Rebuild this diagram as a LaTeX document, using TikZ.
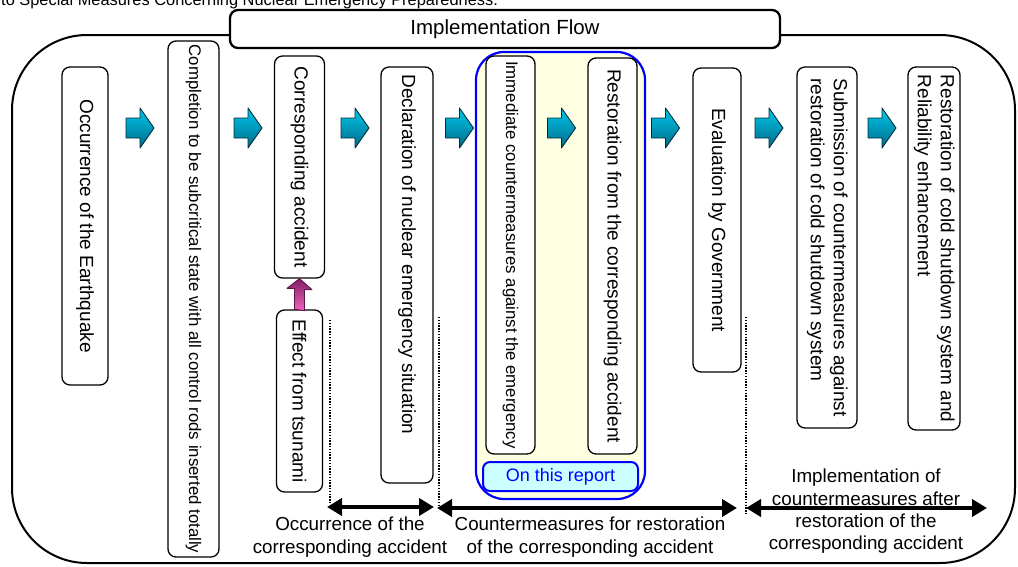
\documentclass[tikz,border=0pt]{standalone}
\usepackage{fontspec}
\setmainfont{Liberation Sans}
\usepackage{graphicx}
\usetikzlibrary{arrows.meta,calc}

\definecolor{flowcyan}{RGB}{0,200,235}
\definecolor{flowteal}{RGB}{0,105,135}
\definecolor{flowedge}{RGB}{0,45,60}
\definecolor{tsupink}{RGB}{240,100,190}
\definecolor{tsuplum}{RGB}{130,30,100}
\definecolor{reportfill}{RGB}{204,255,255}
\definecolor{zonefill}{RGB}{255,255,226}

\newcommand{\vtext}[1]{\rotatebox{-90}{#1}}
\newcommand{\fs}[1]{\fontsize{#1}{23}\selectfont}

\begin{document}
\begin{tikzpicture}
            [x=1pt,y=-1pt,line join=round,every node/.style={inner sep=0pt},
             vbox/.style={draw,fill=white,rounded corners=8pt,line width=1.3pt,font=\fs{19}},
             frame/.style={draw,line width=2pt,rounded corners=75pt},
             titlebox/.style={draw,fill=white,line width=2.3pt,rounded corners=8pt,font=\fs{20.5}},
             zone/.style={draw=blue,fill=zonefill,line width=2.2pt,rounded corners=28pt},
             reportbox/.style={draw=blue,fill=reportfill,line width=2pt,rounded corners=7pt,text=blue,font=\fs{18}},
             flowfill/.style={draw=flowedge,line width=0.9pt,top color=flowcyan,bottom color=flowteal},
             flowarrow/.pic={\path[flowfill] (-14,-10) -- (0,-10) -- (0,-20) -- (14,0) -- (0,20) -- (0,10) -- (-14,10) -- cycle;},
             tsunamiarrow/.style={draw=tsuplum!70!black,line width=0.9pt,top color=tsuplum,bottom color=tsupink},
             sepline/.style={line width=1.6pt,dash pattern=on 1.4pt off 1.4pt},
             spanarrow/.style={line width=4pt,arrows={Triangle[length=15pt,width=17pt]-Triangle[length=15pt,width=17pt]}},
             bandlabel/.style={align=center,font=\fontsize{18.8}{22.3}\selectfont}]
            \useasboundingbox (0,0) rectangle (1018,566);
            \begin{scope}
            \clip (0,0) rectangle (1018,566);
            \node[anchor=base west,font=\fontsize{16.4}{18}\selectfont] (header) at (1,5.5) {to Special Measures Concerning Nuclear Emergency Preparedness.};
            \end{scope}
            \node[frame,minimum width=1003pt,minimum height=528pt] (outer) at (513.5,299) {};
            \node[titlebox,minimum width=550pt,minimum height=38pt] (title) at (505,29) {Implementation Flow};
            \node[zone,minimum width=169pt,minimum height=447pt] (ourzone) at (560.5,275.5) {};
            % steps of the flow
            \node[vbox,minimum width=46pt,minimum height=318pt] (quake) at (85,226) {\vtext{Occurrence of the Earthquake}};
            \node[vbox,font=\fs{16.8},minimum width=51pt,minimum height=516pt] (subcrit) at (193.5,299) {\vtext{Completion to be subcritical state with all control rods inserted totally}};
            \node[vbox,minimum width=50pt,minimum height=222pt] (corr) at (299.5,167) {\vtext{Corresponding accident}};
            \node[vbox,minimum width=46pt,minimum height=182pt] (tsunami) at (299.5,401) {\vtext{Effect from tsunami}};
            \node[vbox,minimum width=52pt,minimum height=416pt] (declare) at (407,275) {\vtext{Declaration of nuclear emergency situation\hspace{41pt}}};
            \node[vbox,font=\fs{16.8},minimum width=49pt,minimum height=398pt] (immediate) at (510.5,255) {\vtext{Immediate countermeasures against the emergency}};
            \node[vbox,minimum width=49pt,minimum height=396pt] (restore) at (612.5,256) {\vtext{Restoration from the corresponding accident}};
            \node[reportbox,minimum width=155pt,minimum height=29pt] (report) at (560.5,476.5) {On this report};
            \node[vbox,minimum width=48pt,minimum height=304pt] (evaluate) at (717,220) {\vtext{Evaluation by Government}};
            \node[vbox,minimum width=60pt,minimum height=361pt] (submit) at (827,247.5) {\vtext{\begin{tabular}{@{}l@{}}Submission of countermeasures against\\restoration of cold shutdown system\end{tabular}}};
            \node[vbox,minimum width=52pt,minimum height=363pt] (reliab) at (934,248.5) {\vtext{\begin{tabular}{@{}l@{}}Restoration of cold shutdown system and\\Reliability enhancement\end{tabular}}};
            % block arrows between the steps
            \pic at (140,128) {flowarrow};
            \pic at (248,128) {flowarrow};
            \pic at (355,128) {flowarrow};
            \pic at (459.5,128) {flowarrow};
            \pic at (561.5,128) {flowarrow};
            \pic at (665.5,128) {flowarrow};
            \pic at (769,128) {flowarrow};
            \pic at (882,128) {flowarrow};
            \path[tsunamiarrow] (tsunami.north) ++(-5,0) -- ++(0,-21) -- ++(-7.5,0) -- (corr.south) -- ++(12.5,11) -- ++(-7.5,0) -- ++(0,21) -- cycle;
            % phases
            \coordinate (sepA1) at (330,320);
            \coordinate (sepA2) at (330,503);
            \coordinate (sepB1) at (439,317);
            \coordinate (sepB2) at (439,505);
            \coordinate (sepC1) at (746,317);
            \coordinate (sepC2) at (746,514);
            \draw[sepline] (sepA1) -- (sepA2);
            \draw[sepline] (sepB1) -- (sepB2);
            \draw[sepline] (sepC1) -- (sepC2);
            \node[bandlabel] (occlabel) at (350,537) {Occurrence of the\\corresponding accident};
            \node[bandlabel] (restlabel) at (590,537) {Countermeasures for restoration\\of the corresponding accident};
            \node[bandlabel] (afterlabel) at (866,511.5) {Implementation of\\countermeasures after\\restoration of the\\corresponding accident};
            \coordinate (spanA1) at (327,507);
            \coordinate (spanA2) at (434,507);
            \coordinate (spanB1) at (437,508);
            \coordinate (spanB2) at (737,508);
            \coordinate (spanC1) at (746,508);
            \coordinate (spanC2) at (987,508);
            \draw[spanarrow] (spanA1) -- (spanA2);
            \draw[spanarrow] (spanB1) -- (spanB2);
            \draw[spanarrow] (spanC1) -- (spanC2);
        \end{tikzpicture}
\end{document}
